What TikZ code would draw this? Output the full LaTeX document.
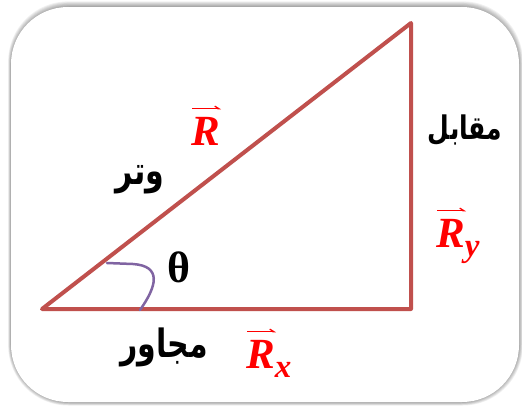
\documentclass[tikz,border=0pt]{standalone}
\usepackage{fontspec}
\setmainfont{Liberation Serif}
\newfontfamily\arabicfont[Script=Arabic]{DejaVu Sans}
\TeXXeTstate=1
\usetikzlibrary{arrows.meta}
\definecolor{tri}{HTML}{C0504D}
\definecolor{arcc}{HTML}{8064A2}
\definecolor{vred}{HTML}{FF0000}
\newcommand{\vbi}[1]{\textbf{\textit{#1}}}
\newcommand{\subv}[1]{\raisebox{-9pt}{\fontsize{33}{35}\selectfont\vbi{#1}}}
\begin{document}
\begin{tikzpicture}[x=1pt,y=-1pt,
  side/.style={draw=tri, line width=4pt, line join=round, line cap=round},
  arlabel/.style={text=black, inner sep=0pt},
  veclabel/.style={font=\fontsize{43}{46}\selectfont, text=vred, inner sep=0pt},
  vecarrow/.style={draw=vred, line width=1.3pt, -{Straight Barb[left, length=4pt, width=5pt]}},
  anglemark/.style={draw=arcc, line width=2.5pt, line cap=round}]
\useasboundingbox (0,0) rectangle (522,405);
\fill[white] (0,0) rectangle (522,405);
% glow / shadow
\foreach \i in {1,...,7}{
  \fill[black, opacity=0.055, rounded corners=60pt] (11-\i*0.4,7-\i*0.8) rectangle (519+\i*0.55,402+\i*0.5);
}
\fill[white, rounded corners=57pt] (11,7) rectangle (519,402);
% triangle
\coordinate (A) at (42,309);
\coordinate (B) at (411,309);
\coordinate (C) at (411,23);
\draw[side] (A) -- (B) -- (C) -- cycle;
% angle mark
\coordinate (m1) at (107,263);
\coordinate (m2) at (140,310);
\draw[anglemark] (m1) -- (133,264) .. controls (162,266) and (157,286) .. (m2);
% vector labels
\node[veclabel, anchor=base west] (R) at (191,145) {\vbi{R}};
\node[veclabel, anchor=base west] (Ry) at (436,247) {\vbi{R}\subv{y}};
\node[veclabel, anchor=base west] (Rx) at (246,368) {\vbi{R}\subv{x}};
\draw[vecarrow] ([xshift=1pt,yshift=8pt]R.north west) -- ++(29,0);
\draw[vecarrow] ([xshift=1pt,yshift=8pt]Ry.north west) -- ++(29,0);
\draw[vecarrow] ([xshift=1pt,yshift=8pt]Rx.north west) -- ++(29,0);
% arabic labels
\node[arlabel] (hyp) at (140,180) {\scalebox{1}[1.3]{\arabicfont\bfseries\fontsize{30}{32}\selectfont\beginR وتر\endR}};
\node[arlabel] (opp) at (465,130) {\scalebox{1}[1.3]{\arabicfont\bfseries\fontsize{25}{28}\selectfont\beginR مقابل\endR}};
\node[arlabel] (adj) at (164,347) {\scalebox{1}[1.3]{\arabicfont\bfseries\fontsize{30}{32}\selectfont\beginR مجاور\endR}};
\node[font=\bfseries\fontsize{44}{48}\selectfont, inner sep=0pt] (th) at (179,267) {θ};
\end{tikzpicture}
\end{document}
